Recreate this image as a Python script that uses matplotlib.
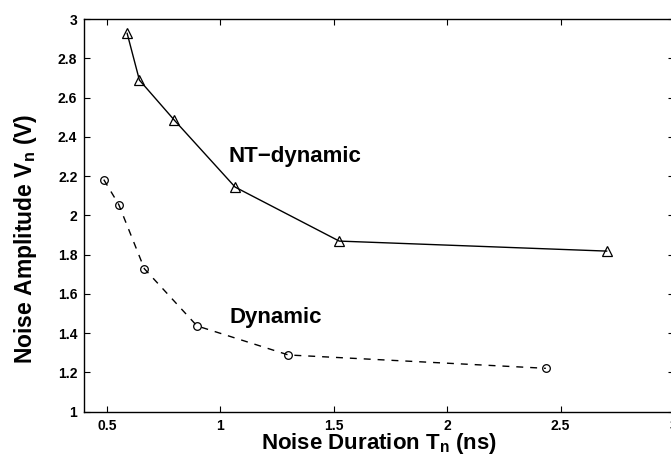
import matplotlib.pyplot as plt

plt.rcParams['font.family'] = ['Liberation Sans', 'DejaVu Sans']
plt.rcParams['font.weight'] = 'bold'
plt.rcParams['mathtext.fontset'] = 'custom'
plt.rcParams['mathtext.rm'] = 'Liberation Sans:bold'
plt.rcParams['mathtext.it'] = 'Liberation Sans:bold'
plt.rcParams['mathtext.bf'] = 'Liberation Sans:bold'

# noise duration (ns) vs noise amplitude (V)
nt_duration = [0.589, 0.643, 0.797, 1.065, 1.524, 2.703]
nt_amplitude = [2.927, 2.689, 2.485, 2.144, 1.869, 1.818]

dyn_duration = [0.486, 0.552, 0.665, 0.897, 1.30, 2.435]
dyn_amplitude = [2.182, 2.055, 1.728, 1.437, 1.289, 1.221]

x_ticks = [0.5, 1, 1.5, 2, 2.5, 3]
y_ticks = [1, 1.2, 1.4, 1.6, 1.8, 2, 2.2, 2.4, 2.6, 2.8, 3]

fig = plt.figure(figsize=(6.71, 4.57), dpi=100)
ax = fig.add_axes([0.1256, 0.0991, 0.8789, 0.8593])

ax.plot(nt_duration, nt_amplitude, '-', color='black', linewidth=1.0,
        marker='^', markersize=7, markerfacecolor='none', markeredgecolor='black',
        markeredgewidth=0.9)
ax.plot(dyn_duration, dyn_amplitude, '--', color='black', linewidth=1.0,
        dashes=(5, 5), marker='o', markersize=5.5, markerfacecolor='none',
        markeredgecolor='black', markeredgewidth=0.9)

ax.text(1.035, 2.30, 'NT\u2212dynamic', fontsize=16, fontweight='bold', va='center')
ax.text(1.04, 1.48, 'Dynamic', fontsize=16, fontweight='bold', va='center')

ax.set_xlim(0.4, 3)
ax.set_ylim(1, 3)
ax.set_xticks(x_ticks)
ax.set_xticklabels([f'{t:g}' for t in x_ticks])
ax.set_yticks(y_ticks)
ax.set_yticklabels([f'{t:g}' for t in y_ticks])
ax.tick_params(direction='in', top=True, right=True, length=4, width=0.8,
               labelsize=10, pad=5)
for side in ax.spines.values():
    side.set_linewidth(1.0)

ax.set_xlabel('Noise Duration T$_n$ (ns)', fontsize=16, fontweight='bold', labelpad=-1)
ax.set_ylabel('Noise Amplitude V$_n$ (V)', fontsize=16.5, fontweight='bold')
ax.yaxis.set_label_coords(-0.077, 0.44)

fig.savefig('out.png', dpi=100)
